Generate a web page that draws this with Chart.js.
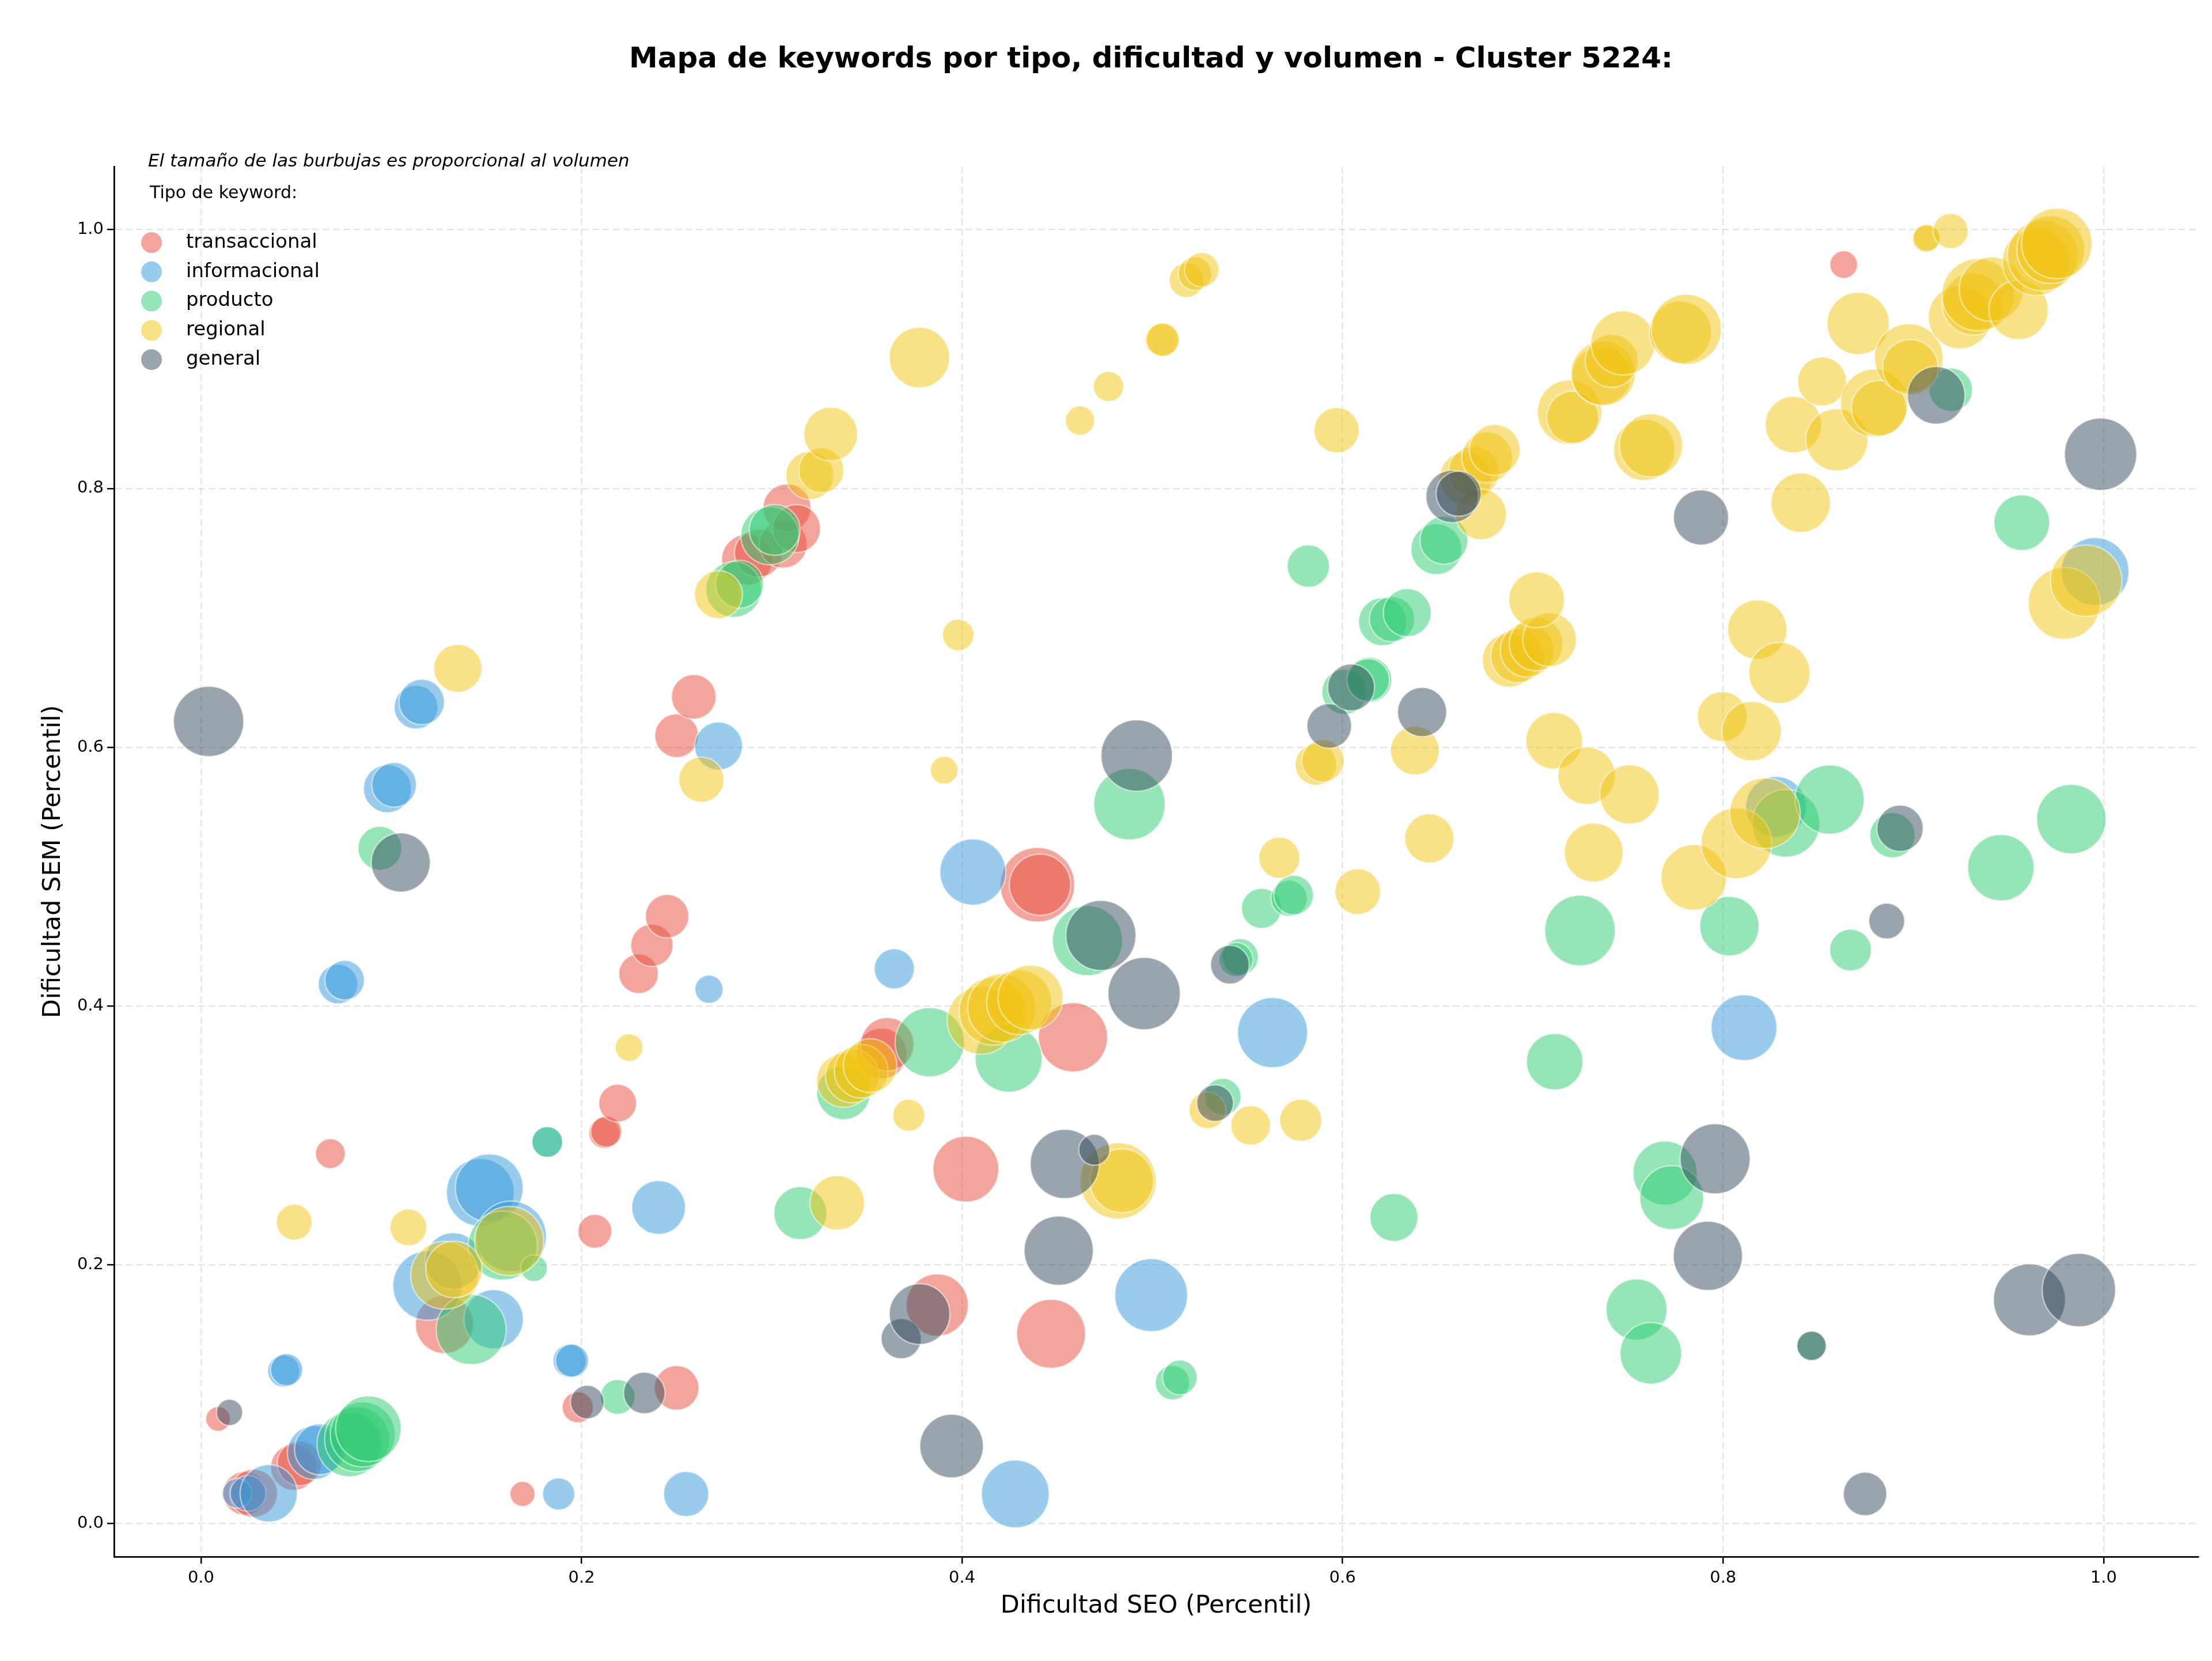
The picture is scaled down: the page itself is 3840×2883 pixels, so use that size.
<!DOCTYPE html>
<html>
<head>
<meta charset="utf-8">
<script src="https://cdn.jsdelivr.net/npm/chart.js@4.4.1/dist/chart.umd.min.js"></script>
<style>
  html, body { margin: 0; padding: 0; background: #ffffff; }
  canvas { display: block; }
</style>
</head>
<body>
<canvas id="mapaChart" width="3840" height="2883"></canvas>
<script>
// Textos del gráfico
const titulo = "Mapa de keywords por tipo, dificultad y volumen - Cluster 5224:";
const nota = "El tamaño de las burbujas es proporcional al volumen";
const tituloLeyenda = "Tipo de keyword:";
const tipos = ["transaccional", "informacional", "producto", "regional", "general"];
const ticksX = [0.0, 0.2, 0.4, 0.6, 0.8, 1.0];
const ticksY = [0.0, 0.2, 0.4, 0.6, 0.8, 1.0];

// [dificultad SEO, dificultad SEM, volumen relativo]
const transaccional = [
  [0.009, 0.081, 76], [0.023, 0.0235, 240], [0.0276, 0.0235, 289], [0.0487, 0.0436, 266], [0.0518, 0.0466, 250],
  [0.068, 0.286, 112], [0.128, 0.154, 424], [0.169, 0.023, 79], [0.198, 0.090, 121], [0.207, 0.226, 144],
  [0.212, 0.302, 121], [0.213, 0.303, 121], [0.219, 0.325, 180], [0.230, 0.425, 196], [0.237, 0.447, 225],
  [0.245, 0.4695, 237], [0.250, 0.105, 250], [0.250, 0.609, 240], [0.259, 0.639, 250], [0.287, 0.745, 324],
  [0.293, 0.750, 289], [0.306, 0.757, 289], [0.308, 0.785, 289], [0.313, 0.769, 289], [0.3577, 0.3634, 324],
  [0.3607, 0.3705, 357], [0.387, 0.169, 484], [0.402, 0.274, 543], [0.4396, 0.4938, 697], [0.441, 0.4938, 471],
  [0.4468, 0.1468, 595], [0.4583, 0.3759, 600], [0.8634, 0.973, 96]
];
const informacional = [
  [0.019, 0.0235, 110], [0.0247, 0.0235, 159], [0.0356, 0.0235, 412], [0.0435, 0.118, 130], [0.045, 0.119, 130],
  [0.0595, 0.055, 361], [0.0625, 0.0575, 324], [0.072, 0.417, 196], [0.0755, 0.420, 196], [0.098, 0.568, 289],
  [0.1015, 0.571, 250], [0.113, 0.631, 240], [0.116, 0.635, 259], [0.119, 0.184, 600], [0.1326, 0.203, 400],
  [0.1468, 0.256, 576], [0.1515, 0.2595, 576], [0.1538, 0.158, 441], [0.163, 0.222, 625], [0.182, 0.295, 119],
  [0.188, 0.023, 130], [0.1937, 0.126, 137], [0.195, 0.126, 137], [0.2405, 0.2444, 361], [0.255, 0.023, 256],
  [0.267, 0.413, 100], [0.272, 0.601, 289], [0.3644, 0.4288, 202], [0.4057, 0.5036, 548], [0.428, 0.023, 576],
  [0.4994, 0.1766, 666], [0.5632, 0.3795, 615], [0.811, 0.3833, 543], [0.8278, 0.554, 462], [0.9955, 0.7358, 576]
];
const producto = [
  [0.078, 0.0614, 529], [0.082, 0.0653, 529], [0.085, 0.069, 529], [0.088, 0.0734, 540], [0.094, 0.522, 240],
  [0.142, 0.150, 615], [0.1586, 0.215, 600], [0.175, 0.1975, 90], [0.182, 0.295, 119], [0.219, 0.098, 151],
  [0.280, 0.722, 388], [0.283, 0.726, 289], [0.299, 0.7635, 424], [0.3015, 0.768, 324], [0.315, 0.240, 350],
  [0.3377, 0.333, 361], [0.383, 0.3721, 600], [0.4245, 0.3594, 562], [0.4659, 0.4506, 615], [0.488, 0.556, 640],
  [0.5106, 0.109, 149], [0.5145, 0.113, 151], [0.537, 0.330, 169], [0.5462, 0.438, 166], [0.544, 0.436, 144],
  [0.5574, 0.4755, 202], [0.5719, 0.4833, 164], [0.5743, 0.4858, 196], [0.582, 0.740, 225], [0.601, 0.6428, 256],
  [0.614, 0.6521, 256], [0.6135, 0.652, 225], [0.621, 0.697, 289], [0.626, 0.699, 256], [0.634, 0.704, 289],
  [0.627, 0.2367, 289], [0.6493, 0.7531, 324], [0.6533, 0.760, 289], [0.7115, 0.357, 400], [0.7248, 0.4584, 625],
  [0.7545, 0.1655, 467], [0.762, 0.1317, 475], [0.7695, 0.271, 515], [0.773, 0.252, 511], [0.8033, 0.4618, 441],
  [0.833, 0.5413, 576], [0.8465, 0.1375, 108], [0.856, 0.5596, 600], [0.867, 0.4433, 219], [0.889, 0.532, 256],
  [0.9197, 0.8763, 237], [0.946, 0.507, 552], [0.957, 0.7736, 388], [0.983, 0.5445, 605]
];
const regional = [
  [0.049, 0.233, 161], [0.109, 0.229, 169], [0.128, 0.192, 576], [0.133, 0.1965, 400], [0.135, 0.661, 289],
  [0.162, 0.2185, 600], [0.225, 0.368, 96], [0.263, 0.575, 256], [0.272, 0.718, 289], [0.320, 0.810, 289],
  [0.326, 0.814, 256], [0.331, 0.842, 361], [0.3344, 0.248, 372], [0.3377, 0.3425, 361], [0.3423, 0.346, 361],
  [0.347, 0.3497, 361], [0.3517, 0.354, 361], [0.372, 0.3156, 128], [0.3776, 0.9012, 458], [0.3906, 0.5823, 96],
  [0.398, 0.6868, 125], [0.410, 0.389, 576], [0.4163, 0.396, 576], [0.4209, 0.3986, 586], [0.430, 0.403, 529],
  [0.436, 0.4066, 529], [0.462, 0.8525, 108], [0.477, 0.8788, 114], [0.482, 0.265, 729], [0.484, 0.265, 511],
  [0.505, 0.9148, 137], [0.5055, 0.915, 137], [0.518, 0.961, 151], [0.5224, 0.966, 142], [0.526, 0.969, 149],
  [0.529, 0.3195, 169], [0.5517, 0.3078, 196], [0.5668, 0.5147, 213], [0.578, 0.3117, 222], [0.586, 0.5867, 216],
  [0.5897, 0.5895, 225], [0.5969, 0.845, 256], [0.608, 0.4884, 262], [0.638, 0.5974, 299], [0.6456, 0.5296, 303],
  [0.6647, 0.808, 342], [0.669, 0.813, 324], [0.6728, 0.780, 324], [0.676, 0.824, 324], [0.680, 0.8298, 324],
  [0.6876, 0.6673, 361], [0.692, 0.6706, 361], [0.697, 0.675, 361], [0.7017, 0.6798, 361], [0.7088, 0.6832, 361],
  [0.702, 0.714, 388], [0.7112, 0.605, 400], [0.7193, 0.859, 520], [0.721, 0.855, 342], [0.7283, 0.578, 412],
  [0.732, 0.5187, 433], [0.736, 0.887, 433], [0.737, 0.889, 520], [0.7414, 0.8986, 350], [0.7474, 0.9124, 515],
  [0.7508, 0.5636, 441], [0.7586, 0.8298, 471], [0.7621, 0.8333, 502], [0.7775, 0.9208, 484], [0.7807, 0.923, 615],
  [0.7846, 0.4995, 538], [0.7996, 0.6237, 313], [0.807, 0.5258, 625], [0.815, 0.6125, 441], [0.818, 0.691, 441],
  [0.822, 0.549, 625], [0.8296, 0.6575, 467], [0.837, 0.8493, 400], [0.8408, 0.789, 441], [0.852, 0.8827, 299],
  [0.8598, 0.8376, 484], [0.871, 0.9275, 484], [0.8795, 0.866, 576], [0.882, 0.862, 384], [0.8976, 0.9008, 590],
  [0.8984, 0.8938, 384], [0.9066, 0.993, 92], [0.907, 0.9935, 92], [0.9196, 0.999, 154], [0.9245, 0.9324, 502],
  [0.9315, 0.9426, 484], [0.934, 0.9497, 655], [0.941, 0.954, 520], [0.9553, 0.938, 441], [0.9646, 0.9753, 576],
  [0.968, 0.980, 625], [0.9722, 0.9846, 576], [0.9754, 0.9893, 625], [0.9793, 0.7113, 650], [0.9908, 0.7287, 640]
];
const general = [
  [0.004, 0.620, 620], [0.015, 0.086, 86], [0.105, 0.511, 437], [0.203, 0.094, 142], [0.233, 0.101, 216],
  [0.368, 0.143, 202], [0.3777, 0.162, 462], [0.3945, 0.060, 506], [0.4508, 0.211, 600], [0.454, 0.278, 600],
  [0.4695, 0.289, 121], [0.473, 0.4546, 615], [0.4918, 0.5936, 640], [0.4957, 0.4097, 655], [0.533, 0.325, 169],
  [0.5408, 0.432, 188], [0.593, 0.6165, 250], [0.6045, 0.6463, 276], [0.6418, 0.6272, 303], [0.6576, 0.7938, 346],
  [0.661, 0.796, 256], [0.7884, 0.7776, 380], [0.792, 0.207, 600], [0.7958, 0.282, 615], [0.8465, 0.1375, 108],
  [0.8746, 0.023, 237], [0.886, 0.4657, 161], [0.893, 0.5374, 269], [0.912, 0.872, 416], [0.961, 0.173, 650],
  [0.987, 0.1806, 676], [0.9984, 0.8265, 655]
];

const series = [transaccional, informacional, producto, regional, general];
const colores = ["231, 76, 60", "52, 152, 219", "46, 204, 113", "241, 196, 15", "52, 73, 94"];
const fuente = "'DejaVu Sans', sans-serif";

// radio en px proporcional a la raiz del volumen (area ~ volumen)
function radio(vol) {
  return Math.sqrt(vol) * 2.449;
}

const datasets = series.map((puntos, i) => ({
  label: tipos[i],
  data: puntos.map((p) => ({ x: p[0], y: p[1], r: radio(p[2]) })),
  backgroundColor: `rgba(${colores[i]}, 0.5)`,
  borderColor: "rgba(255, 255, 255, 0.5)",
  borderWidth: 2.5,
  order: series.length - i, // el ultimo tipo se dibuja encima
}));

// Titulo, nota y leyenda dibujados a mano
const textosExtra = {
  id: "textosExtra",
  afterDraw(chart) {
    const ctx = chart.ctx;
    ctx.save();
    ctx.fillStyle = "#000000";
    ctx.textBaseline = "middle";

    ctx.textAlign = "center";
    ctx.font = `bold 50px ${fuente}`;
    ctx.fillText(titulo, 1998, 104);

    ctx.textAlign = "left";
    ctx.font = `italic 31px ${fuente}`;
    ctx.fillText(nota, 257, 281);

    ctx.font = `30px ${fuente}`;
    ctx.fillText(tituloLeyenda, 260, 336);

    ctx.font = `34px ${fuente}`;
    tipos.forEach((tipo, i) => {
      const y = 421 + i * 50.8;
      ctx.beginPath();
      ctx.arc(263, y, 18, 0, Math.PI * 2);
      ctx.fillStyle = `rgba(${colores[i]}, 0.5)`;
      ctx.fill();
      ctx.fillStyle = "#000000";
      ctx.fillText(tipo, 323, y);
    });
    ctx.restore();
  },
};

const rejilla = {
  color: "rgba(176, 176, 176, 0.32)",
  lineWidth: 2.5,
  tickLength: 12,
  tickColor: "#000000",
  tickWidth: 2.5,
};

new Chart(document.getElementById("mapaChart"), {
  type: "bubble",
  data: { datasets: datasets },
  options: {
    responsive: false,
    devicePixelRatio: 1,
    animation: false,
    layout: {
      autoPadding: false,
      padding: { top: 289, right: 24, bottom: 0, left: 0 },
    },
    plugins: {
      legend: { display: false },
      title: { display: false },
      tooltip: { enabled: false },
    },
    scales: {
      x: {
        type: "linear",
        min: -0.0457,
        max: 1.0497,
        afterBuildTicks: (axis) => {
          axis.ticks = ticksX.map((v) => ({ value: v }));
        },
        afterFit: (axis) => {
          axis.height = 181;
        },
        ticks: {
          callback: (v) => v.toFixed(1),
          font: { family: fuente, size: 29 },
          color: "#000000",
          padding: 8,
          maxRotation: 0,
        },
        grid: rejilla,
        border: { display: true, color: "#000000", width: 2.8, dash: [12, 6] },
        title: {
          display: true,
          text: "Dificultad SEO (Percentil)",
          font: { family: fuente, size: 43 },
          color: "#000000",
          padding: { top: 0, bottom: 69 },
        },
      },
      y: {
        type: "linear",
        min: -0.0255,
        max: 1.0488,
        afterBuildTicks: (axis) => {
          axis.ticks = ticksY.map((v) => ({ value: v }));
        },
        afterFit: (axis) => {
          axis.width = 198;
        },
        ticks: {
          callback: (v) => v.toFixed(1),
          font: { family: fuente, size: 29 },
          color: "#000000",
          padding: 6,
        },
        grid: rejilla,
        border: { display: true, color: "#000000", width: 2.8, dash: [12, 6] },
        title: {
          display: true,
          text: "Dificultad SEM (Percentil)",
          font: { family: fuente, size: 43 },
          color: "#000000",
          padding: { top: 67, bottom: 0 },
        },
      },
    },
  },
  plugins: [textosExtra],
});
</script>
</body>
</html>
